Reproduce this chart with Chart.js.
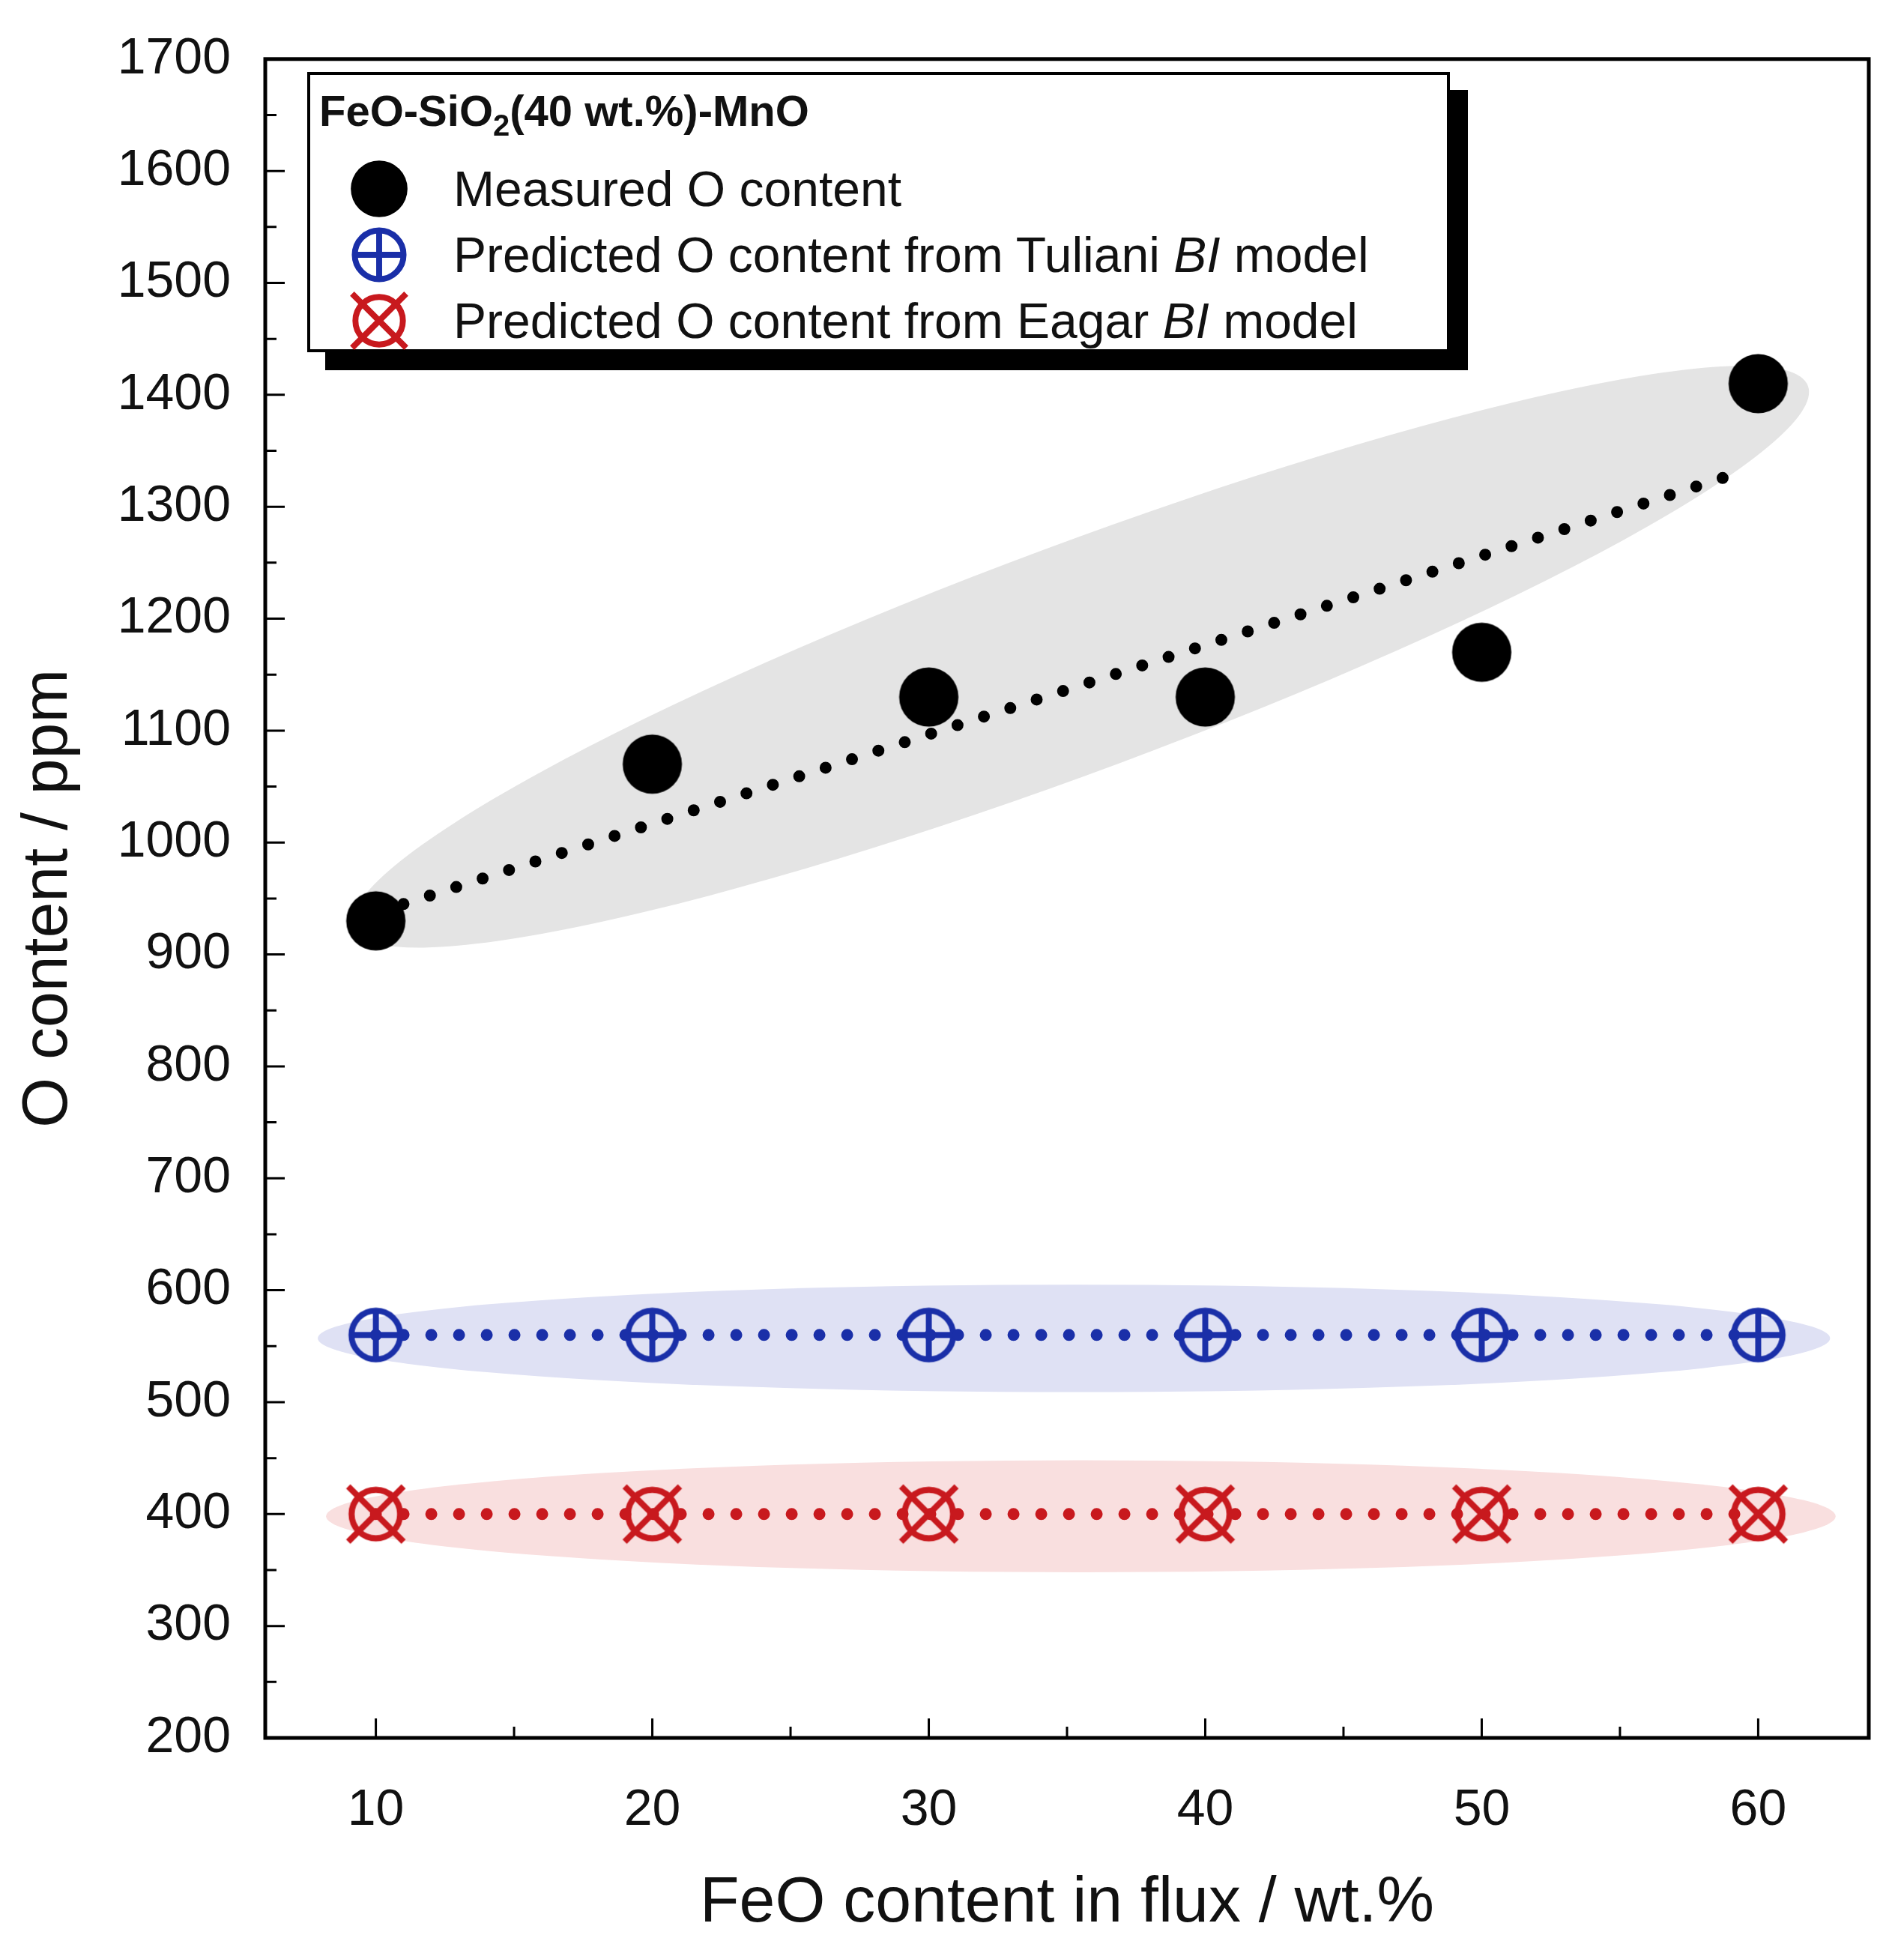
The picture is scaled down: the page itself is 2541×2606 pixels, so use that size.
<!DOCTYPE html>
<html>
<head>
<meta charset="utf-8">
<script src="https://cdn.jsdelivr.net/npm/chart.js@4.4.1/dist/chart.umd.min.js"></script>
<style>
  html, body { margin: 0; padding: 0; background: #fff; }
  #wrap { position: relative; width: 2541px; height: 2606px; }
  #legend {
    position: absolute; left: 410px; top: 96px; width: 1525px; height: 374px;
    border: 4px solid #000; background: #fff; box-shadow: 24px 24px 0 #000;
    font-family: "Liberation Sans", Arial, sans-serif; color: #111; box-sizing: border-box;
  }
  #legend .title { position: absolute; left: 12px; top: 14px; font-weight: bold; font-size: 58px; }
  #legend .row { position: absolute; left: 0; height: 88px; display: flex; align-items: center; font-size: 66px; white-space: nowrap; }
  #legend canvas { width: 88px; height: 88px; margin-left: 48px; margin-right: 55px; }
</style>
</head>
<body>
<div id="wrap">
  <canvas id="chart" width="2541" height="2606"></canvas>
  <div id="legend">
    <div class="title">FeO-SiO<sub style="font-size:40px">2</sub>(40 wt.%)-MnO</div>
    <div class="row" style="top:108px"><canvas id="lg0" width="88" height="88"></canvas>Measured O content</div>
    <div class="row" style="top:196px"><canvas id="lg1" width="88" height="88"></canvas>Predicted O content from Tuliani&nbsp;<i>BI</i>&nbsp;model</div>
    <div class="row" style="top:284px"><canvas id="lg2" width="88" height="88"></canvas>Predicted O content from Eagar&nbsp;<i>BI</i>&nbsp;model</div>
  </div>
</div>
<script>
// data
const feo = [10, 20, 30, 40, 50, 60];
const measured = [930, 1070, 1130, 1130, 1170, 1410];
const tuliani = [560, 560, 560, 560, 560, 560];
const eagar = [400, 400, 400, 400, 400, 400];
const fitX = [11, 59];
const fitY = [945, 1328];
const xTicks = [10, 20, 30, 40, 50, 60];
const xMinor = [15, 25, 35, 45, 55];
const yTicks = [200, 300, 400, 500, 600, 700, 800, 900, 1000, 1100, 1200, 1300, 1400, 1500, 1600, 1700];
// shaded bands: [x1, y1, x2, y2, half width in ppm]
const greyBand = [9.2, 924, 61.8, 1408, 108];
const blueBand = [7.9, 557, 62.6, 557, 48];
const redBand = [8.2, 398, 62.8, 398, 50];

const BLUE = '#1a2fa8', RED = '#c8191e';

function marker(type, size) {
  const c = document.createElement('canvas');
  c.width = size; c.height = size;
  drawMarker(c.getContext('2d'), type, size);
  return c;
}
function drawMarker(g, type, size) {
  const m = size / 2;
  g.lineCap = 'butt';
  if (type === 'dot') {
    g.fillStyle = '#000';
    g.beginPath(); g.arc(m, m, m * 0.86, 0, Math.PI * 2); g.fill();
  } else if (type === 'plus') {
    const r = m * 0.74;
    g.strokeStyle = BLUE; g.lineWidth = size * 0.09;
    g.beginPath(); g.arc(m, m, r, 0, Math.PI * 2); g.stroke();
    g.beginPath(); g.moveTo(m - r, m); g.lineTo(m + r, m); g.moveTo(m, m - r); g.lineTo(m, m + r); g.stroke();
  } else {
    const r = m * 0.72, d = m * 0.82;
    g.strokeStyle = RED; g.lineWidth = size * 0.09;
    g.beginPath(); g.arc(m, m, r, 0, Math.PI * 2); g.stroke();
    g.beginPath(); g.moveTo(m - d, m - d); g.lineTo(m + d, m + d); g.moveTo(m + d, m - d); g.lineTo(m - d, m + d); g.stroke();
  }
}
['dot', 'plus', 'cross'].forEach((t, i) => drawMarker(document.getElementById('lg' + i).getContext('2d'), t, 88));

const bands = {
  id: 'bands',
  beforeDatasetsDraw(chart) {
    const { ctx, scales: { x, y } } = chart;
    [[greyBand, '#e4e4e4'], [blueBand, '#dfe1f4'], [redBand, '#f9dfdf']].forEach(([b, col]) => {
      const x1 = x.getPixelForValue(b[0]), y1 = y.getPixelForValue(b[1]);
      const x2 = x.getPixelForValue(b[2]), y2 = y.getPixelForValue(b[3]);
      const ang = Math.atan2(y2 - y1, x2 - x1);
      const major = Math.hypot(x2 - x1, y2 - y1) / 2;
      const minor = Math.abs(y.getPixelForValue(b[1] + b[4]) - y1) * Math.cos(ang);
      ctx.save();
      ctx.fillStyle = col;
      ctx.beginPath();
      ctx.ellipse((x1 + x2) / 2, (y1 + y2) / 2, major, minor, ang, 0, Math.PI * 2);
      ctx.fill();
      ctx.restore();
    });
  },
  afterDraw(chart) {
    const { ctx, chartArea: a, scales: { x, y } } = chart;
    ctx.save();
    ctx.strokeStyle = '#000';
    ctx.lineWidth = 5;
    ctx.strokeRect(a.left, a.top, a.right - a.left, a.bottom - a.top);
    ctx.lineWidth = 3;
    ctx.beginPath();
    xTicks.forEach(v => { const p = x.getPixelForValue(v); ctx.moveTo(p, a.bottom); ctx.lineTo(p, a.bottom - 26); });
    xMinor.forEach(v => { const p = x.getPixelForValue(v); ctx.moveTo(p, a.bottom); ctx.lineTo(p, a.bottom - 15); });
    yTicks.forEach(v => { const p = y.getPixelForValue(v); ctx.moveTo(a.left, p); ctx.lineTo(a.left + 26, p); });
    yTicks.slice(0, -1).forEach(v => { const p = y.getPixelForValue(v + 50); ctx.moveTo(a.left, p); ctx.lineTo(a.left + 15, p); });
    ctx.stroke();
    ctx.restore();
  }
};

const dotted = (col) => ({ borderColor: col, borderWidth: 16, borderDash: [0, 37], borderCapStyle: 'round', pointRadius: 0, fill: false });
const pts = (ys) => feo.map((v, i) => ({ x: v, y: ys[i] }));

new Chart(document.getElementById('chart'), {
  type: 'scatter',
  data: {
    datasets: [
      { ...dotted('#000'), showLine: true, data: fitX.map((v, i) => ({ x: v, y: fitY[i] })) },
      { ...dotted(BLUE), showLine: true, data: pts(tuliani) },
      { ...dotted(RED), showLine: true, data: pts(eagar) },
      { data: pts(measured), pointStyle: marker('dot', 92), pointRadius: 46, showLine: false },
      { data: pts(tuliani), pointStyle: marker('plus', 88), pointRadius: 44, showLine: false },
      { data: pts(eagar), pointStyle: marker('cross', 90), pointRadius: 45, showLine: false }
    ]
  },
  options: {
    responsive: false,
    animation: false,
    layout: { padding: { top: 38, right: 21, left: 0, bottom: 0 } },
    plugins: { legend: { display: false }, tooltip: { enabled: false } },
    scales: {
      x: {
        type: 'linear', min: 6, max: 64,
        afterBuildTicks: s => { s.ticks = xTicks.map(v => ({ value: v })); },
        afterFit: s => { s.height = 287; },
        grid: { display: false }, border: { display: false },
        ticks: { padding: 48, color: '#111', callback: v => String(v), font: { family: 'Liberation Sans', size: 68 } },
        title: { display: true, text: 'FeO content in flux / wt.%', color: '#111', padding: { top: 0, bottom: 14 }, font: { family: 'Liberation Sans', size: 86 } }
      },
      y: {
        type: 'linear', min: 200, max: 1700,
        afterBuildTicks: s => { s.ticks = yTicks.map(v => ({ value: v })); },
        afterFit: s => { s.width = 354; },
        grid: { display: false }, border: { display: false },
        ticks: { padding: 38, color: '#111', callback: v => String(v), font: { family: 'Liberation Sans', size: 68 } },
        title: { display: true, text: 'O content / ppm', color: '#111', padding: { top: 14, bottom: 0 }, font: { family: 'Liberation Sans', size: 86 } }
      }
    }
  },
  plugins: [bands]
});
</script>
</body>
</html>
